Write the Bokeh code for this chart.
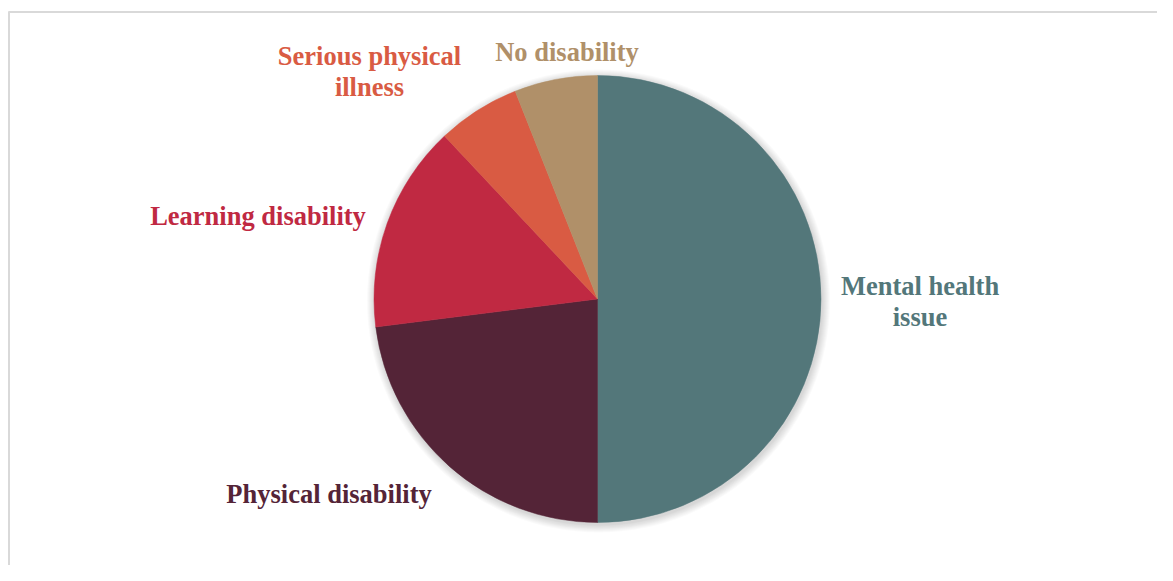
import math
from bokeh.plotting import figure
from bokeh.models import Range1d
from bokeh.core.properties import value
from bokeh.embed import file_html
from bokeh.resources import INLINE

# ---- data ----
categories = ["Mental health issue", "Physical disability", "Learning disability",
              "Serious physical illness", "No disability"]
shares = [50, 23, 15, 6, 6]
colors = ["#53777A", "#542437", "#C02942", "#D95B43", "#B09069"]
label_lines = [["Mental health", "issue"], ["Physical disability"], ["Learning disability"],
               ["Serious physical", "illness"], ["No disability"]]

# ---- layout (picture pixel coordinates) ----
W, H = 1157, 565
CX, CY, R = 597, 298.5, 223.5
label_pos = [(919.5, 285.5), (328.5, 493.5), (257.5, 215.5), (369, 55.5), (566.5, 51.5)]  # centre x, first baseline
LINE_H = 31

def Y(py):
    return H - py

p = figure(width=W, height=H, output_backend="svg", toolbar_location=None,
           x_range=Range1d(0, W), y_range=Range1d(0, H),
           min_border=0, outline_line_color=None)
p.axis.visible = False
p.grid.visible = False
p.background_fill_color = "white"
p.border_fill_color = "white"

# frame lines (left and top of the chart area)
p.line(x=[8.5, 8.5], y=[Y(11), Y(600)], line_color="#d9d9d9", line_width=2)
p.line(x=[8, 1200], y=[Y(11.5), Y(11.5)], line_color="#d9d9d9", line_width=2)

# soft shadow
for k in range(8):
    p.circle(x=CX + 1, y=Y(CY + 2), radius=R + 1 + k, fill_color="black",
             fill_alpha=0.018, line_color=None)

total = float(sum(shares))
cum = 0.0
for cat, s, c in zip(categories, shares, colors):
    a0 = math.pi / 2 - 2 * math.pi * cum / total
    cum += s
    a1 = math.pi / 2 - 2 * math.pi * cum / total
    p.wedge(x=CX, y=Y(CY), radius=R, start_angle=a0, end_angle=a1, direction="clock",
            fill_color=c, line_color=c, line_width=0.5)

for lines, (lx, ly), c in zip(label_lines, label_pos, colors):
    for i, t in enumerate(lines):
        p.text(x=[lx], y=[Y(ly + i * LINE_H)], text=[t], text_color=c,
               text_font=value("Liberation Serif"), text_font_style="bold",
               text_font_size="26.5px", text_align="center", text_baseline="alphabetic")

open("out.html", "w").write(file_html(p, INLINE))
